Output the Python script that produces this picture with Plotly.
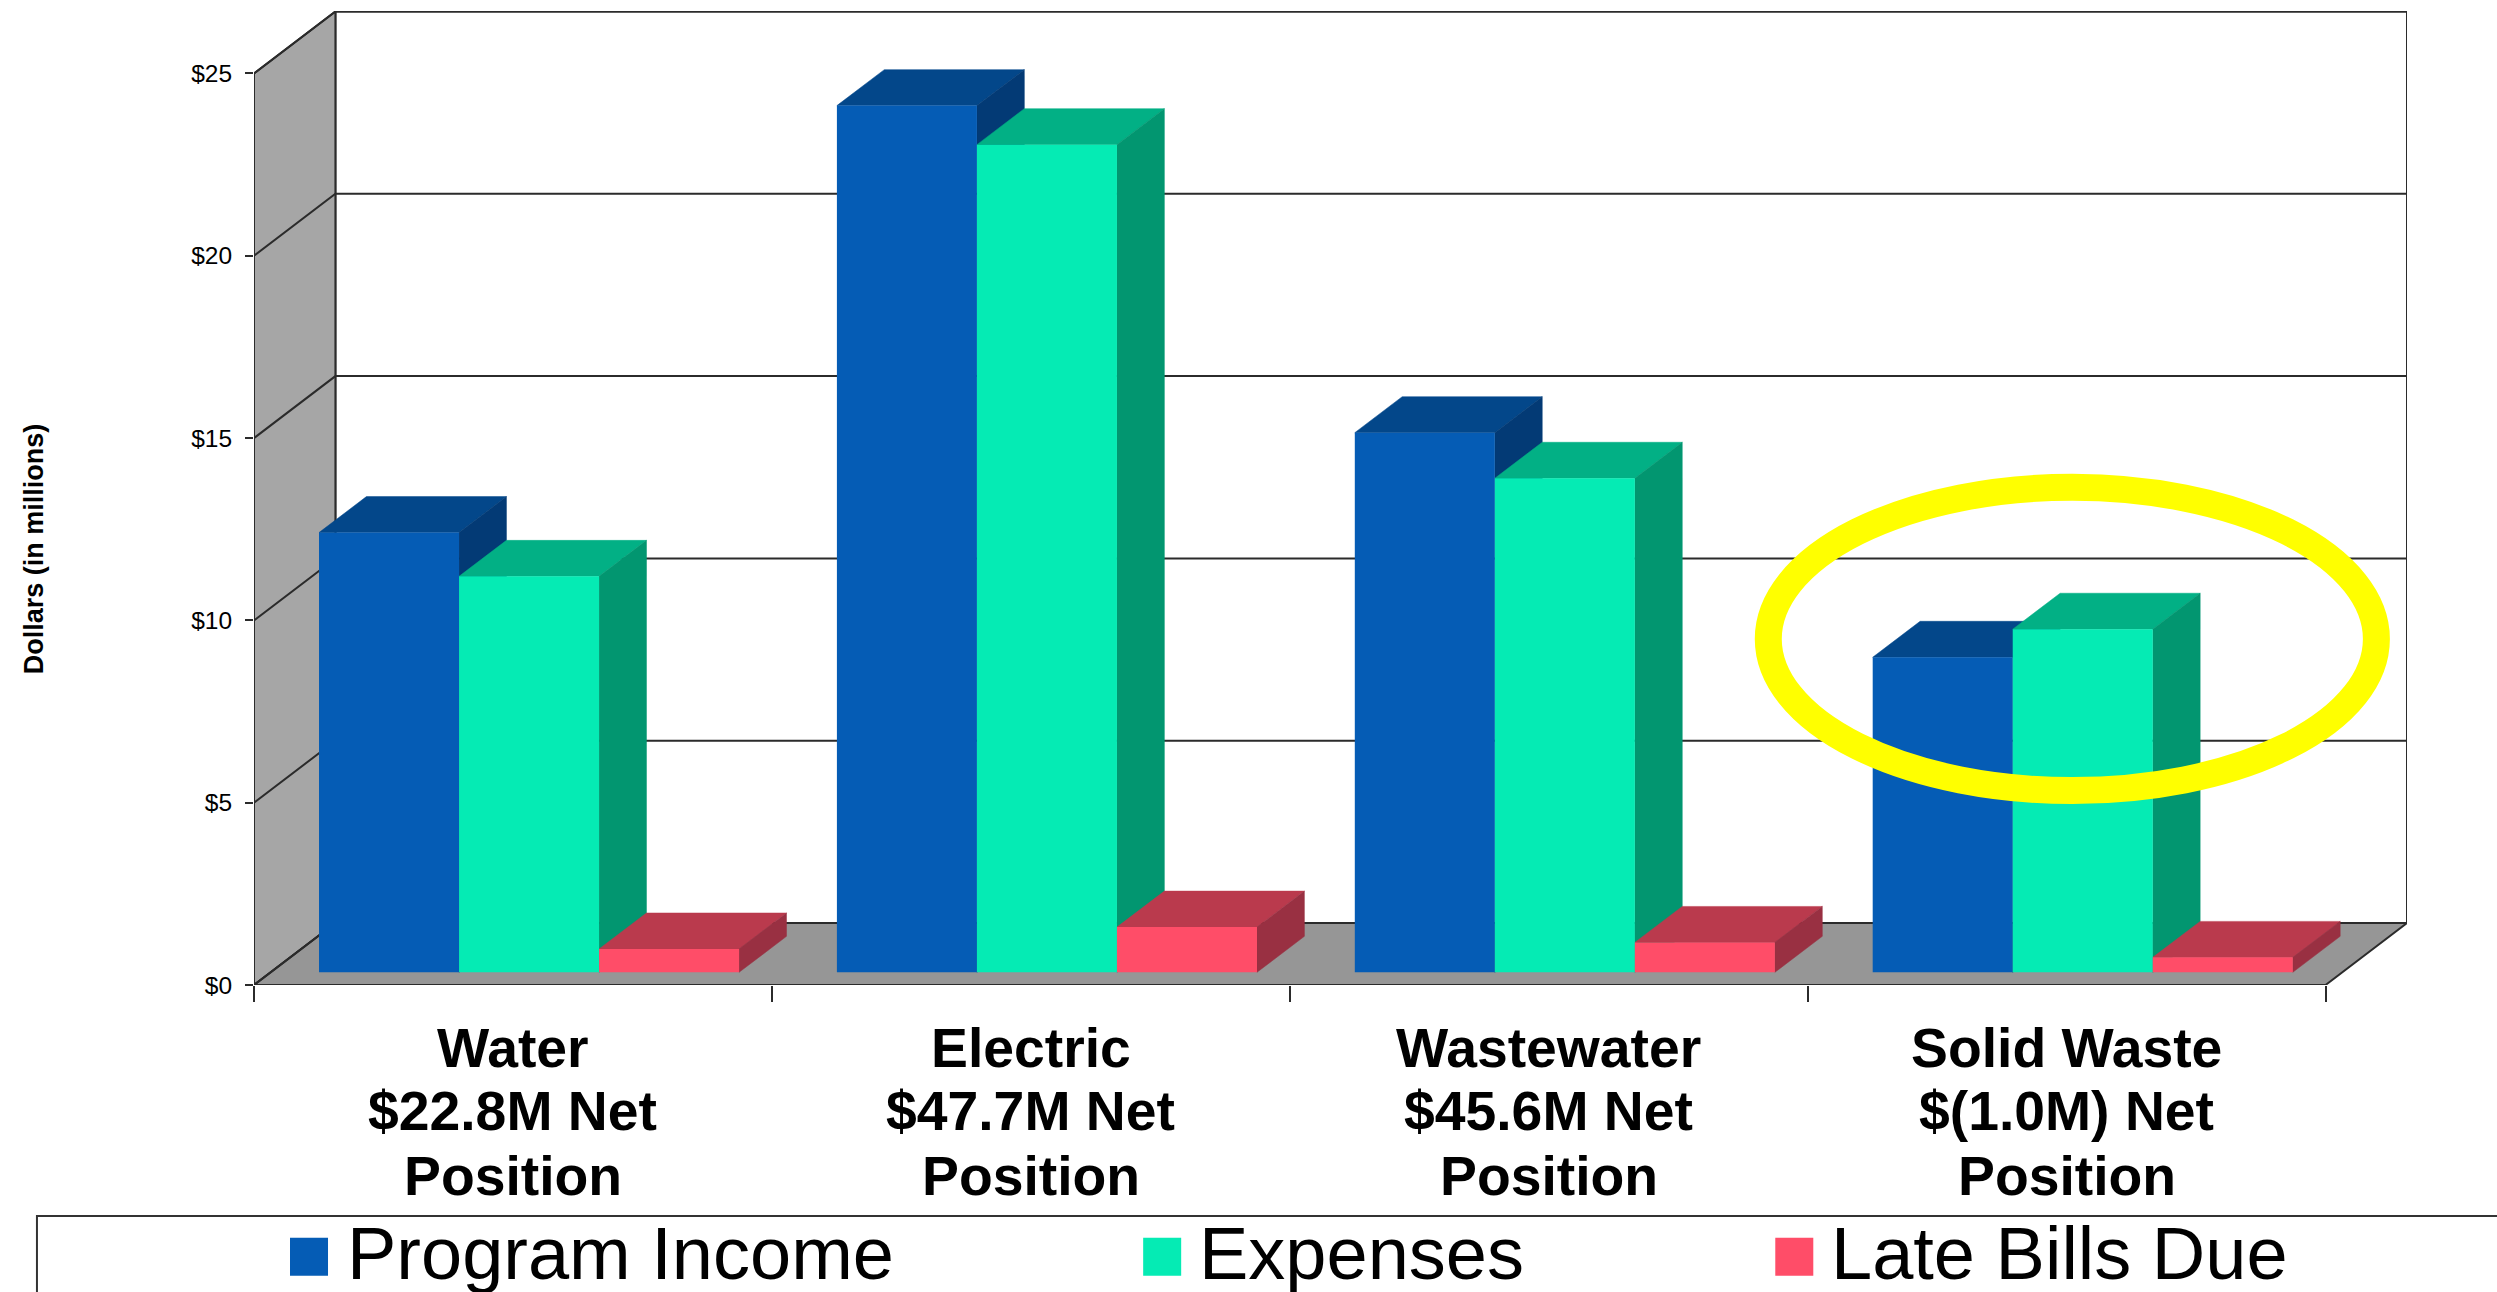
import plotly.graph_objects as go

# ---- data ----
categories = ["Water", "Electric", "Wastewater", "Solid Waste"]
net_positions = ["$22.8M Net", "$47.7M Net", "$45.6M Net", "$(1.0M) Net"]
label_last_line = "Position"
series_names = ["Program Income", "Expenses", "Late Bills Due"]
program_income = [12.06, 23.77, 14.80, 8.64]
expenses = [10.86, 22.70, 13.55, 9.41]
late_bills = [0.64, 1.24, 0.82, 0.41]
y_ticks = [0, 5, 10, 15, 20, 25]
y_tick_labels = ["$0", "$5", "$10", "$15", "$20", "$25"]
y_title = "Dollars (in millions)"

front_colors = ["#055CB5", "#05EBB4", "#FF4D68"]
top_colors = ["#03478A", "#02B085", "#BA3A4D"]
side_colors = ["#033A75", "#029670", "#993042"]

# ---- geometry ----
W, H = 2497, 1292
PL, PR, PT, PB = 254.0, 2406.6, 10.5, 985.0   # plot box in page pixels
CAT_W = 517.8                                 # px per category
PX_PER_USD = 36.48
x_max = (PR - PL) / CAT_W
y_max = (PB - PT) / PX_PER_USD
wall_dx = x_max - 4
wall_dy = 62 / PX_PER_USD
bar_w = 140.0 / CAT_W
bar_start = 65 / CAT_W
bar_base = 12.7 / PX_PER_USD
depth_dx = 47.4 / CAT_W
depth_dy = 36 / PX_PER_USD
LINE = "#2b2b2b"


def px(x):
    return (x - PL) / (PR - PL)


def py(y):
    return (PB - y) / (PB - PT)


def poly(xs, ys, color, line=None):
    return go.Scatter(x=xs + xs[:1], y=ys + ys[:1], mode="lines", fill="toself", fillcolor=color,
                      line=dict(color=line or color, width=2 if line else 0.5), hoverinfo="skip",
                      showlegend=False, cliponaxis=False)


fig = go.Figure()
# back wall, side wall, floor
fig.add_trace(poly([wall_dx, 4 + wall_dx, 4 + wall_dx, wall_dx],
                   [wall_dy, wall_dy, 25 + wall_dy, 25 + wall_dy], "#FFFFFF", LINE))
fig.add_trace(poly([0, wall_dx, wall_dx, 0], [0, wall_dy, 25 + wall_dy, 25], "#A6A6A6", LINE))
fig.add_trace(poly([0, 4, 4 + wall_dx, wall_dx], [0, 0, wall_dy, wall_dy], "#969696", LINE))
# grid lines on the walls
for v in y_ticks:
    fig.add_trace(go.Scatter(x=[0, wall_dx, 4 + wall_dx], y=[v, v + wall_dy, v + wall_dy], mode="lines",
                             line=dict(color=LINE, width=2), hoverinfo="skip", showlegend=False,
                             cliponaxis=False))

# extruded sides of the bars
all_values = [program_income, expenses, late_bills]
for g in range(len(categories)):
    for s, vals in enumerate(all_values):
        left = g + bar_start + s * bar_w
        right = left + bar_w
        top = bar_base + vals[g]
        fig.add_trace(poly([left, right, right + depth_dx, left + depth_dx],
                           [top, top, top + depth_dy, top + depth_dy], top_colors[s]))
        fig.add_trace(poly([right, right + depth_dx, right + depth_dx, right],
                           [bar_base, bar_base + depth_dy, top + depth_dy, top], side_colors[s]))

# front faces: real bars on an overlay subplot, so that they sit above the sides
for s, vals in enumerate(all_values):
    fig.add_trace(go.Bar(name=series_names[s], x=[g + bar_start + (s + 0.5) * bar_w for g in range(4)],
                         y=vals, base=bar_base, width=bar_w, marker=dict(color=front_colors[s], line=dict(width=0)),
                         xaxis="x2", yaxis="y2", showlegend=False))

annotations = []
FONT = "Liberation Sans, Arial, sans-serif"
LINE_Y = [1048, 1111.5, 1176.5]
for g, cat in enumerate(categories):
    for line_text, ly in zip([cat, net_positions[g], label_last_line], LINE_Y):
        annotations.append(dict(x=g + 0.5, xref="x", y=py(ly), yref="paper", text=line_text, showarrow=False,
                                xanchor="center", yanchor="middle",
                                font=dict(family=FONT, size=55.3, color="#000000", weight="bold")))
annotations.append(dict(x=px(34), xref="paper", y=py(548), yref="paper", text=y_title, textangle=-90,
                        showarrow=False, xanchor="center", yanchor="middle",
                        font=dict(family=FONT, size=27, color="#000000", weight="bold")))

# legend
legend_swatch_x = [290, 1143, 1775]
legend_text_x = [345, 1197, 1829]
shapes = [dict(type="rect", xref="paper", yref="paper", x0=px(37), x1=px(2520), y0=py(1216), y1=py(1320),
               line=dict(color="#333333", width=2), fillcolor="#FFFFFF", layer="above")]
for s, name in enumerate(series_names):
    shapes.append(dict(type="rect", xref="paper", yref="paper", x0=px(legend_swatch_x[s]),
                       x1=px(legend_swatch_x[s] + 38), y0=py(1238), y1=py(1276),
                       fillcolor=front_colors[s], line=dict(width=0), layer="above"))
    annotations.append(dict(x=px(legend_text_x[s]), xref="paper", y=py(1254), yref="paper", text=name,
                            showarrow=False, xanchor="left", yanchor="middle",
                            font=dict(family=FONT, size=74, color="#000000")))
# highlight ring
shapes.append(dict(type="circle", xref="paper", yref="paper", x0=px(1768), x1=px(2376), y0=py(487), y1=py(790.5),
                   line=dict(color="#FFFF00", width=27), layer="above"))

axis_x = dict(range=[0, x_max], showgrid=False, zeroline=False, showline=False)
axis_y = dict(range=[0, y_max], showgrid=False, zeroline=False, showline=False)
fig.update_layout(
    width=W, height=H, autosize=False, showlegend=False, barmode="overlay",
    margin=dict(l=PL, r=W - PR, t=PT, b=H - PB, pad=0),
    paper_bgcolor="#FFFFFF", plot_bgcolor="#FFFFFF",
    xaxis=dict(**axis_x, tickmode="array", tickvals=[0, 1, 2, 3, 4], showticklabels=False,
               ticks="outside", ticklen=16, tickwidth=2, tickcolor=LINE),
    yaxis=dict(**axis_y, tickmode="array", tickvals=y_ticks, ticktext=y_tick_labels, ticks="outside",
               ticklen=8, tickwidth=2, tickcolor=LINE, ticklabelstandoff=8,
               tickfont=dict(family=FONT, size=24.5, color="#000000")),
    xaxis2=dict(**axis_x, overlaying="x", visible=False),
    yaxis2=dict(**axis_y, overlaying="y", visible=False),
    annotations=annotations, shapes=shapes,
)
fig.write_html("out.html", config=dict(displayModeBar=False),
               post_script="document.body.style.margin='0';document.body.style.overflow='hidden';")
